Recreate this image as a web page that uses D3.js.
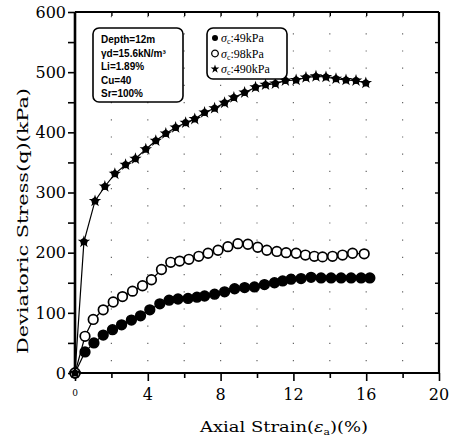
<!DOCTYPE html>
<html>
<head>
<meta charset="utf-8">
<script src="https://cdn.jsdelivr.net/npm/d3@7/dist/d3.min.js"></script>
<style>
    html, body { margin: 0; padding: 0; background: #fff; }
    svg { display: block; }
    .tick-label { font-family: 'DejaVu Serif', serif; font-size: 16px; fill: #000; }
    .axis-title { font-family: 'DejaVu Serif', serif; font-size: 15px; fill: #000; }
    .box-text { font-family: 'Liberation Sans', Arial, sans-serif; font-size: 10px; font-weight: bold; fill: #000; }
    .legend-text { font-family: 'Liberation Serif', serif; font-size: 12px; fill: #000; }
</style>
</head>
<body>
<svg id="chart" width="455" height="440"></svg>
<script>
/*jslint browser: true*/
/*global d3*/

// sigma_c = 490 kPa (star markers)
var strain490 = [0, 0.49, 1.10, 1.64, 2.19, 2.78, 3.32, 3.89, 4.44, 4.99, 5.53, 6.08, 6.58, 7.12, 7.67,
    8.22, 8.73, 9.32, 9.92, 10.47, 11.01, 11.56, 12.15, 12.69, 13.24, 13.79, 14.34, 14.89, 15.44, 15.98];
var q490 = [0, 218, 286, 310, 331, 346, 356, 372, 386, 398, 408, 416, 422, 433, 440,
    449, 458, 466, 475, 479, 481, 486, 487, 491, 493, 492, 489, 487, 486, 482];

// sigma_c = 98 kPa (open circles)
var strain98 = [0, 0.55, 1.0, 1.55, 2.1, 2.61, 3.16, 3.71, 4.2, 4.75, 5.26, 5.75, 6.26, 6.8, 7.31, 7.86,
    8.4, 8.95, 9.5, 10.04, 10.54, 11.09, 11.6, 12.15, 12.66, 13.15, 13.6, 14.15, 14.7, 15.25, 15.89];
var q98 = [0, 61, 89, 105, 118, 127, 136, 145, 155, 172, 184, 186, 189, 194, 199, 204,
    210, 215, 214, 209, 204, 202, 200, 199, 196, 194, 193, 194, 196, 199, 198];

// sigma_c = 49 kPa (filled circles)
var strain49 = [0, 0.55, 1.04, 1.55, 2.06, 2.56, 3.1, 3.6, 4.11, 4.66, 5.17, 5.66, 6.21, 6.7, 7.12, 7.67,
    8.22, 8.77, 9.32, 9.86, 10.41, 10.96, 11.41, 11.87, 12.42, 12.97, 13.52, 14.07, 14.62, 15.17, 15.72, 16.2];
var q49 = [0, 35, 50, 63, 72, 80, 88, 95, 105, 115, 121, 123, 124, 126, 128, 131,
    135, 140, 142, 143, 147, 150, 153, 156, 157, 159, 158, 158, 158, 158, 158, 158];

var xTicks = [0, 4, 8, 12, 16, 20];
var yTicks = [0, 100, 200, 300, 400, 500, 600];
var soilInfo = ['Depth=12m', 'γd=15.6kN/m³', 'Li=1.89%', 'Cu=40', 'Sr=100%'];
var legendLabels = ['49kPa', '98kPa', '490kPa'];

(function (d3) {
    'use strict';

    var svg = d3.select('#chart'),
        margin = {left: 75, right: 16, top: 12, bottom: 67},
        width = 455 - margin.left - margin.right,
        height = 440 - margin.top - margin.bottom,
        x = d3.scaleLinear().domain([0, 20]).range([0, width]),
        y = d3.scaleLinear().domain([0, 600]).range([height, 0]),
        g = svg.append('g').attr('transform', 'translate(' + margin.left + ',' + margin.top + ')'),
        line = d3.line().x(function (d) { return x(d[0]); }).y(function (d) { return y(d[1]); }),
        star = d3.symbol().type(d3.symbolStar).size(48),
        series;

    function zip(a, b) {
        return a.map(function (v, i) { return [v, b[i]]; });
    }

    series = [
        {pts: zip(strain49, q49), kind: 'filled'},
        {pts: zip(strain98, q98), kind: 'open'},
        {pts: zip(strain490, q490), kind: 'star'}
    ];

    // faint dotted grid left over from the scan
    g.append('g')
        .selectAll('line')
        .data(d3.range(2, 20, 2))
        .enter()
        .append('line')
        .attr('x1', function (d) { return x(d); })
        .attr('x2', function (d) { return x(d); })
        .attr('y1', 4)
        .attr('y2', height)
        .attr('stroke', '#666')
        .attr('stroke-width', 1.2)
        .attr('stroke-dasharray', '1.2,16');

    // axes
    var xAxis = g.append('g')
        .attr('transform', 'translate(0,' + height + ')')
        .call(d3.axisBottom(x).tickValues(d3.range(0, 21, 2)).tickSize(7).tickFormat(''));
    xAxis.selectAll('.tick line')
        .attr('stroke-width', 1.6)
        .attr('y2', function (d) { return d % 4 === 0 ? 8 : 5; });

    var yAxis = g.append('g')
        .call(d3.axisLeft(y).tickValues(d3.range(0, 601, 50)).tickSize(7).tickFormat(''));
    yAxis.selectAll('.tick line').attr('stroke-width', 1.6);

    var topAxis = g.append('g')
        .call(d3.axisBottom(x).tickValues(d3.range(2, 20, 2)).tickSize(4).tickFormat(''));
    topAxis.selectAll('.tick line').attr('stroke-width', 1.4);

    var rightAxis = g.append('g')
        .attr('transform', 'translate(' + width + ',0)')
        .call(d3.axisLeft(y).tickValues(d3.range(50, 600, 50)).tickSize(4).tickFormat(''));
    rightAxis.selectAll('.tick line').attr('stroke-width', 1.4);

    [xAxis, yAxis, topAxis, rightAxis].forEach(function (a) {
        a.select('.domain').remove();
    });

    // frame
    g.append('line').attr('x1', 0).attr('x2', 0).attr('y1', 0).attr('y2', height)
        .attr('stroke', '#000').attr('stroke-width', 2.6);
    g.append('line').attr('x1', 0).attr('x2', width).attr('y1', height).attr('y2', height)
        .attr('stroke', '#000').attr('stroke-width', 2.2);
    g.append('line').attr('x1', 0).attr('x2', width).attr('y1', 0).attr('y2', 0)
        .attr('stroke', '#000').attr('stroke-width', 1.8);
    g.append('line').attr('x1', width).attr('x2', width).attr('y1', 0).attr('y2', height)
        .attr('stroke', '#000').attr('stroke-width', 2.2);

    // tick labels
    g.selectAll('.xlab')
        .data(xTicks)
        .enter()
        .append('text')
        .attr('class', 'tick-label')
        .attr('x', function (d) { return x(d); })
        .attr('y', height + 27)
        .attr('text-anchor', 'middle')
        .style('font-size', function (d) { return d === 0 ? '9px' : null; })
        .attr('dy', function (d) { return d === 0 ? -4 : 0; })
        .text(function (d) { return d; });

    g.selectAll('.ylab')
        .data(yTicks)
        .enter()
        .append('text')
        .attr('class', 'tick-label')
        .attr('x', -9)
        .attr('y', function (d) { return y(d); })
        .attr('dy', '0.36em')
        .attr('text-anchor', 'end')
        .text(function (d) { return d; });

    // axis titles
    var xt = svg.append('text')
        .attr('class', 'axis-title')
        .attr('x', 284)
        .attr('y', 432)
        .attr('text-anchor', 'middle')
        .attr('textLength', 168)
        .attr('lengthAdjust', 'spacingAndGlyphs');
    xt.append('tspan').text('Axial Strain(');
    xt.append('tspan').style('font-style', 'italic').text('ε');
    xt.append('tspan').attr('dy', 3).style('font-size', '9px').text('a');
    xt.append('tspan').attr('dy', -3).text(')(%)');

    svg.append('text')
        .attr('class', 'axis-title')
        .attr('transform', 'translate(28,221) rotate(-90)')
        .attr('text-anchor', 'middle')
        .attr('textLength', 266)
        .attr('lengthAdjust', 'spacingAndGlyphs')
        .text('Deviatoric Stress(q)(kPa)');

    // curves
    series.forEach(function (s) {
        g.append('path')
            .datum(s.pts)
            .attr('fill', 'none')
            .attr('stroke', '#000')
            .attr('stroke-width', 1.2)
            .attr('d', line);

        var pts = g.append('g').selectAll('.pt').data(s.pts).enter();
        if (s.kind === 'star') {
            pts.append('path')
                .attr('d', star)
                .attr('transform', function (d) { return 'translate(' + x(d[0]) + ',' + y(d[1]) + ')'; })
                .attr('fill', '#000');
            pts.append('circle')
                .attr('cx', function (d) { return x(d[0]); })
                .attr('cy', function (d) { return y(d[1]); })
                .attr('r', 3.5)
                .attr('fill', '#000');
        } else {
            pts.append('circle')
                .attr('cx', function (d) { return x(d[0]); })
                .attr('cy', function (d) { return y(d[1]); })
                .attr('r', 4.8)
                .attr('fill', s.kind === 'open' ? '#fff' : '#000')
                .attr('stroke', '#000')
                .attr('stroke-width', 1.7);
        }
    });

    // soil property box
    svg.append('rect')
        .attr('x', 93).attr('y', 28).attr('width', 90).attr('height', 74)
        .attr('rx', 6)
        .attr('fill', '#fff').attr('stroke', '#000').attr('stroke-width', 1.6);
    svg.append('g')
        .selectAll('text')
        .data(soilInfo)
        .enter()
        .append('text')
        .attr('class', 'box-text')
        .attr('x', 101)
        .attr('y', function (d, i) { return 43 + i * 13.5; })
        .text(function (d) { return d; });

    // legend box
    svg.append('rect')
        .attr('x', 207).attr('y', 28).attr('width', 80).attr('height', 51)
        .attr('rx', 6)
        .attr('fill', '#fff').attr('stroke', '#000').attr('stroke-width', 1.6);

    var leg = svg.append('g')
        .selectAll('g')
        .data(legendLabels)
        .enter()
        .append('g')
        .attr('transform', function (d, i) { return 'translate(215,' + (38 + i * 15.5) + ')'; });

    leg.each(function (d, i) {
        var el = d3.select(this);
        if (i === 0) {
            el.append('circle').attr('r', 3).attr('fill', '#000');
        } else if (i === 1) {
            el.append('circle').attr('r', 3.3).attr('fill', '#fff').attr('stroke', '#000').attr('stroke-width', 1.3);
        } else {
            el.append('path').attr('d', d3.symbol().type(d3.symbolStar).size(24)).attr('fill', '#000');
        }
        var t = el.append('text').attr('class', 'legend-text').attr('x', 6).attr('y', 4);
        t.append('tspan').style('font-style', 'italic').text('σ');
        t.append('tspan').attr('dy', 2).style('font-size', '8px').text('c');
        t.append('tspan').attr('dy', -2).text(':' + d);
    });

}(window.d3));
</script>
</body>
</html>
